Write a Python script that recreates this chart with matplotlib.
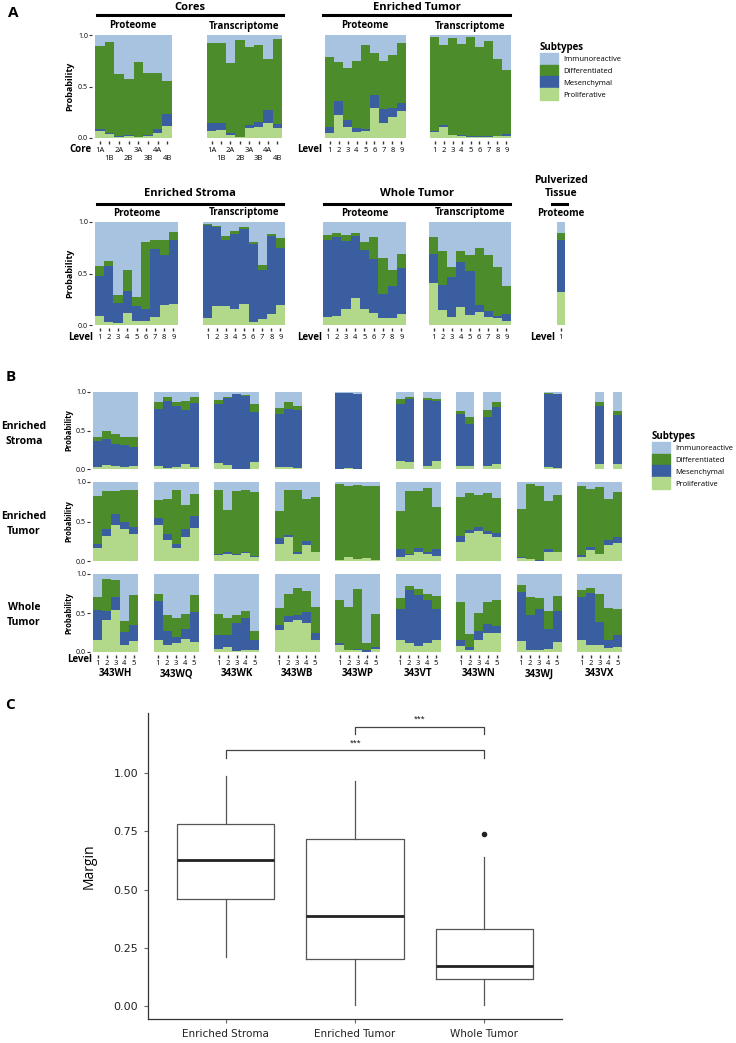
import numpy as np
import matplotlib
matplotlib.use('Agg')
import matplotlib.pyplot as plt
from matplotlib.patches import Patch
from matplotlib.lines import Line2D

plt.rcParams['font.family'] = ['Open Sans', 'DejaVu Sans']

# Colores de los subtipos (orden de apilado: abajo -> arriba)
subtypes = ['Proliferative', 'Mesenchymal', 'Differentiated', 'Immunoreactive']
colors = ['#B2D98A', '#3B5EA1', '#4C8C2B', '#A7C3DF']

# ---------------- Panel A ----------------
core_labels = ['1A', '\n1B', '2A', '\n2B', '3A', '\n3B', '4A', '\n4B']
level_labels = ['1', '2', '3', '4', '5', '6', '7', '8', '9']

cores_prot = dict(prolif=[.07, .04, .01, .02, .01, .02, .05, .12],
                  mes=[.02, .01, .01, .01, .00, .01, .04, .11],
                  diff=[.80, .88, .60, .54, .73, .60, .54, .32],
                  immuno=[.11, .07, .38, .43, .26, .37, .37, .45])
cores_trans = dict(prolif=[.07, .08, .03, .01, .10, .11, .15, .10],
                   mes=[.08, .07, .02, .00, .03, .05, .12, .04],
                   diff=[.77, .77, .68, .94, .75, .74, .50, .82],
                   immuno=[.08, .08, .27, .05, .12, .10, .23, .04])
et_prot = dict(prolif=[.05, .22, .11, .06, .07, .29, .15, .20, .26],
               mes=[.06, .14, .06, .04, .02, .13, .13, .09, .08],
               diff=[.68, .38, .51, .65, .81, .41, .47, .52, .58],
               immuno=[.21, .26, .32, .25, .10, .17, .25, .19, .08])
et_trans = dict(prolif=[.06, .11, .03, .02, .01, .01, .01, .02, .02],
                mes=[.01, .02, .00, .01, .01, .01, .01, .00, .02],
                diff=[.91, .77, .94, .88, .96, .86, .92, .75, .62],
                immuno=[.02, .10, .03, .09, .02, .12, .06, .23, .34])
es_prot = dict(prolif=[.09, .03, .02, .12, .04, .04, .08, .19, .20],
               mes=[.39, .54, .19, .21, .14, .12, .66, .49, .63],
               diff=[.09, .05, .08, .20, .09, .65, .09, .15, .07],
               immuno=[.43, .38, .71, .47, .73, .19, .17, .17, .10])
es_trans = dict(prolif=[.07, .18, .18, .16, .20, .03, .06, .11, .19],
                mes=[.90, .77, .65, .72, .73, .76, .47, .75, .56],
                diff=[.01, .01, .03, .03, .02, .02, .05, .02, .09],
                immuno=[.02, .04, .14, .09, .05, .19, .42, .12, .16])
wt_prot = dict(prolif=[.08, .09, .16, .26, .16, .12, .07, .07, .11],
               mes=[.75, .76, .66, .60, .57, .52, .23, .31, .44],
               diff=[.04, .04, .05, .03, .08, .21, .35, .15, .14],
               immuno=[.13, .11, .13, .11, .19, .15, .35, .47, .31])
wt_trans = dict(prolif=[.41, .15, .08, .17, .10, .13, .08, .07, .04],
                mes=[.28, .24, .39, .44, .42, .06, .06, .02, .07],
                diff=[.16, .33, .09, .11, .16, .56, .54, .47, .27],
                immuno=[.15, .28, .44, .28, .32, .25, .32, .44, .62])
pulv_prot = dict(prolif=[.32], mes=[.51], diff=[.06], immuno=[.11])

# ---------------- Panel B ----------------
patients = ['343WH', '343WQ', '343WK', '343WB', '343WP', '343VT', '343WN', '343WJ', '343VX']
N = None
stroma_prolif = [[.03, .05, .04, .03, .04], [.04, .01, .02, .06, .03], [.08, .05, .00, .00, .09],
                 [.02, .03, .01, N, N], [.00, .01, .00, N, N], [.10, .09, N, .04, .11],
                 [.04, .04, N, .04, .06], [N, N, N, .02, .01], [N, N, .07, N, .07]]
stroma_mes = [[.33, .34, .29, .28, .24], [.74, .87, .80, .70, .83], [.76, .87, .97, .95, .65],
              [.70, .75, .75, N, N], [.99, .98, .98, N, N], [.75, .82, N, .85, .77],
              [.67, .54, N, .64, .74], [N, N, N, .95, .97], [N, N, .75, N, .63]]
stroma_diff = [[.06, .11, .13, .11, .13], [.09, .06, .05, .12, .08], [.05, .02, .00, .01, .10],
               [.07, .09, .06, N, N], [.00, .00, .00, N, N], [.06, .02, N, .03, .03],
               [.04, .10, N, .09, .07], [N, N, N, .02, .00], [N, N, .05, N, .05]]
stroma_immuno = [[.58, .50, .54, .58, .59], [.13, .06, .13, .12, .06], [.11, .06, .03, .04, .16],
                 [.21, .13, .18, N, N], [.01, .01, .02, N, N], [.09, .07, N, .08, .09],
                 [.25, .32, N, .23, .13], [N, N, N, .01, .02], [N, N, .13, N, .25]]

tumor_prolif = [[.17, .32, .46, .40, .34], [.46, .26, .17, .30, .42], [.07, .09, .07, .10, .05],
                [.22, .31, .09, .20, .11], [.01, .05, .02, .04, .01], [.05, .07, .12, .09, .06],
                [.24, .35, .38, .34, .30], [.04, .02, .00, .12, .11], [.05, .14, .09, .20, .23]]
tumor_mes = [[.05, .09, .13, .09, .09], [.09, .08, .04, .10, .15], [.02, .03, .02, .02, .01],
             [.07, .02, .02, .05, .01], [.00, .00, .00, .00, .00], [.10, .02, .04, .03, .09],
             [.08, .04, .05, .04, .05], [.01, .00, .01, .03, .01], [.02, .04, .00, .06, .07]]
tumor_diff = [[.60, .47, .30, .41, .47], [.22, .44, .69, .31, .28], [.81, .53, .80, .78, .81],
              [.34, .57, .79, .54, .69], [.96, .90, .94, .91, .94], [.48, .79, .73, .80, .53],
              [.49, .47, .40, .48, .45], [.61, .95, .94, .61, .72], [.88, .73, .85, .52, .57]]
tumor_immuno = [[.18, .12, .11, .10, .10], [.23, .22, .10, .29, .15], [.10, .35, .11, .10, .13],
                [.37, .10, .10, .21, .19], [.03, .05, .04, .05, .05], [.37, .12, .11, .08, .32],
                [.19, .14, .17, .14, .20], [.34, .03, .05, .24, .16], [.05, .09, .06, .22, .13]]

whole_prolif = [[.15, .41, .54, .09, .14], [.16, .09, .12, .17, .13], [.04, .06, .01, .03, .03],
                [.28, .38, .41, .37, .16], [.09, .02, .03, .00, .04], [.16, .11, .08, .12, .16],
                [.08, .03, .16, .25, .25], [.14, .03, .03, .04, .13], [.15, .09, .09, .05, .07]]
whole_mes = [[.39, .12, .16, .17, .20], [.49, .18, .07, .12, .38], [.18, .16, .36, .41, .12],
             [.07, .08, .06, .14, .09], [.02, .01, .01, .03, .02], [.39, .68, .65, .55, .39],
             [.07, .03, .11, .11, .08], [.63, .44, .52, .25, .40], [.56, .67, .29, .11, .15]]
whole_diff = [[.17, .41, .22, .14, .39], [.09, .20, .24, .20, .22], [.27, .22, .11, .09, .12],
              [.22, .29, .35, .27, .33], [.56, .55, .77, .08, .43], [.14, .06, .08, .07, .17],
              [.49, .17, .23, .28, .34], [.09, .23, .14, .24, .19], [.09, .06, .37, .40, .33]]
whole_immuno = [[.29, .06, .08, .60, .27], [.26, .53, .57, .51, .27], [.51, .56, .52, .47, .73],
                [.43, .25, .18, .22, .42], [.33, .42, .19, .89, .51], [.31, .15, .19, .26, .28],
                [.36, .77, .50, .36, .33], [.14, .30, .31, .47, .28], [.20, .18, .25, .44, .45]]

# ---------------- Panel C ----------------
groups_c = ['Enriched Stroma', 'Enriched Tumor', 'Whole Tumor']
c_whislo = [0.21, 0.003, 0.003]
c_q1 = [0.46, 0.203, 0.114]
c_med = [0.626, 0.386, 0.17]
c_q3 = [0.781, 0.717, 0.329]
c_whishi = [0.986, 0.964, 0.639]
c_fliers = [[], [], [0.737]]

W, H = 736, 1043
fig = plt.figure(figsize=(W / 100, H / 100), dpi=100)


def fx(x):
    return x / W


def fy(y):
    return 1 - y / H


def px_axes(x0, y0, x1, y1):
    return fig.add_axes([fx(x0), fy(y1), (x1 - x0) / W, (y1 - y0) / H])


def ftext(x, y, s, **kw):
    kw.setdefault('ha', 'center')
    kw.setdefault('va', 'center')
    fig.text(fx(x), fy(y), s, **kw)


def bracket(x0, x1, y):
    fig.add_artist(Line2D([fx(x0), fx(x1)], [fy(y), fy(y)], transform=fig.transFigure,
                          color='black', lw=2.2))


def clean(ax):
    for s in ax.spines.values():
        s.set_visible(False)
    ax.spines['bottom'].set_position(('outward', 2))
    ax.spines['left'].set_position(('outward', 2))


def panel_a(x0, x1, y0, y1, d, labels, first):
    ax = px_axes(x0, y0, x1, y1)
    xs = np.arange(len(labels))
    bottom = np.zeros(len(xs))
    for key, col in zip(['prolif', 'mes', 'diff', 'immuno'], colors):
        v = np.array(d[key], float)
        ax.bar(xs, v, bottom=bottom, width=1.0, color=col, linewidth=0)
        bottom += v
    ax.set_xlim(-0.5, len(xs) - 0.5)
    ax.set_ylim(0, 1)
    clean(ax)
    ax.set_xticks(xs)
    ax.set_xticklabels(labels, fontsize=5.5, linespacing=1.35)
    ax.tick_params(axis='x', length=2.5, width=1, pad=1.8, color='#333')
    if first:
        ax.set_yticks([0, 0.5, 1])
        ax.set_yticklabels(['0.0', '0.5', '1.0'], fontsize=5)
        ax.tick_params(axis='y', length=2, width=0.8, pad=1, color='#333')
        ax.set_ylabel('Probability', fontsize=6.5, fontweight='bold', labelpad=3)
    else:
        ax.set_yticks([])
    return ax


# Panel A, fila superior
panel_a(95, 172, 35, 138, cores_prot, core_labels, True)
panel_a(207, 282, 35, 138, cores_trans, core_labels, False)
panel_a(325, 406, 35, 138, et_prot, level_labels, False)
panel_a(430, 511, 35, 138, et_trans, level_labels, False)

ftext(190, 7, 'Cores', fontsize=8, fontweight='bold')
bracket(97, 283, 15)
ftext(417, 7, 'Enriched Tumor', fontsize=8, fontweight='bold')
bracket(323, 510, 15)
for cx, s in [(133, 'Proteome'), (244, 'Transcriptome'), (365, 'Proteome'), (470, 'Transcriptome')]:
    ftext(cx, 26, s, fontsize=7, fontweight='bold')
ftext(91, 150, 'Core', fontsize=7, fontweight='bold', ha='right')
ftext(322, 150, 'Level', fontsize=7, fontweight='bold', ha='right')

# Panel A, fila inferior
panel_a(95, 178, 222, 325, es_prot, level_labels, True)
panel_a(203, 285, 222, 325, es_trans, level_labels, False)
panel_a(323, 406, 222, 325, wt_prot, level_labels, False)
panel_a(429, 511, 222, 325, wt_trans, level_labels, False)
panel_a(557, 565, 222, 325, pulv_prot, ['1'], False)

ftext(190, 194, 'Enriched Stroma', fontsize=8, fontweight='bold')
bracket(97, 283, 204)
ftext(417, 194, 'Whole Tumor', fontsize=8, fontweight='bold')
bracket(324, 510, 204)
ftext(561, 187, 'Pulverized\nTissue', fontsize=7.5, fontweight='bold', linespacing=1.3)
bracket(552, 567, 204)
for cx, s in [(137, 'Proteome'), (244, 'Transcriptome'), (365, 'Proteome'), (470, 'Transcriptome'),
              (561, 'Proteome')]:
    ftext(cx, 213, s, fontsize=7, fontweight='bold')
for x in [93, 322, 555]:
    ftext(x, 337, 'Level', fontsize=7, fontweight='bold', ha='right')

handles = [Patch(color=c) for c in colors[::-1]]
leg_kw = dict(loc='upper left', title='Subtypes', frameon=False, fontsize=5.5,
              title_fontproperties={'weight': 'bold', 'size': 7}, handlelength=2.4,
              handleheight=2.0, labelspacing=0.0, handletextpad=0.6, alignment='left')
fig.legend(handles, subtypes[::-1], bbox_to_anchor=(fx(533), fy(35)), **leg_kw)

# ---------------- Panel B ----------------
STEP = 60.5 / 9.0
b_rows = [(392, 469, [stroma_prolif, stroma_mes, stroma_diff, stroma_immuno], 'Enriched\nStroma', 434),
          (482, 561, [tumor_prolif, tumor_mes, tumor_diff, tumor_immuno], 'Enriched\nTumor', 524),
          (574, 652, [whole_prolif, whole_mes, whole_diff, whole_immuno], 'Whole\nTumor', 615)]
for r, (y0, y1, parts, rlabel, ly) in enumerate(b_rows):
    ax = px_axes(93, y0, 93 + 8 * 60.5 + 45, y1)
    for i in range(len(patients)):
        idx = [j for j in range(5) if parts[0][i][j] is not None]
        xs = np.array([i * STEP + j + 0.5 for j in idx])
        bottom = np.zeros(len(idx))
        for vals, col in zip(parts, colors):
            v = np.array([vals[i][j] for j in idx], float)
            ax.bar(xs, v, bottom=bottom, width=1.0, color=col, linewidth=0)
            bottom += v
    ax.set_xlim(0, 8 * STEP + 5)
    ax.set_ylim(0, 1)
    clean(ax)
    ax.set_yticks([0, 0.5, 1])
    ax.set_yticklabels(['0.0', '0.5', '1.0'], fontsize=5)
    ax.tick_params(axis='y', length=2, width=0.8, pad=1, color='#333')
    ax.set_ylabel('Probability', fontsize=5.5, fontweight='bold', labelpad=2)
    ftext(24, ly, rlabel, fontsize=7.5, fontweight='bold', linespacing=1.4)
    if r == 2:
        ticks = [i * STEP + j + 0.5 for i in range(len(patients)) for j in range(5)]
        ax.set_xticks(ticks)
        ax.set_xticklabels([str(j + 1) for i in range(len(patients)) for j in range(5)], fontsize=5.5)
        ax.tick_params(axis='x', length=2.5, width=1, pad=1, color='#333')
        for i, p in enumerate(patients):
            ftext(93 + i * 60.5 + 22.5, 674, p, fontsize=7, fontweight='bold')
        ftext(92, 660, 'Level', fontsize=7, fontweight='bold', ha='right')
    else:
        ax.set_xticks([])

fig.legend(handles, subtypes[::-1], bbox_to_anchor=(fx(645), fy(424)), **leg_kw)

# ---------------- Panel C ----------------
narrow = ['Liberation Sans Narrow', 'DejaVu Sans']
axc = px_axes(148, 713, 562, 1019)
stats = [dict(whislo=c_whislo[i], q1=c_q1[i], med=c_med[i], q3=c_q3[i], whishi=c_whishi[i],
              fliers=c_fliers[i]) for i in range(3)]
axc.bxp(stats, positions=[1, 2, 3], widths=0.75, showcaps=False,
        boxprops=dict(color='#555555', lw=0.9),
        whiskerprops=dict(color='#555555', lw=0.9),
        medianprops=dict(color='#222222', lw=2),
        flierprops=dict(marker='o', markerfacecolor='#222222', markeredgecolor='#222222', markersize=3))
axc.set_xlim(0.4, 3.6)
axc.set_ylim(-0.056, 1.258)
for s in ['top', 'right']:
    axc.spines[s].set_visible(False)
for s in ['left', 'bottom']:
    axc.spines[s].set_color('#333333')
    axc.spines[s].set_linewidth(0.9)
axc.set_yticks([0, 0.25, 0.5, 0.75, 1.0])
axc.set_yticklabels(['0.00', '0.25', '0.50', '0.75', '1.00'], fontsize=8, family=narrow, color='#222')
axc.set_xticks([1, 2, 3])
axc.set_xticklabels(groups_c, fontsize=7.5, family=narrow, color='#222')
axc.tick_params(length=3, width=0.8, color='#666666', pad=4)
axc.tick_params(axis='x', pad=4)
axc.set_ylabel('Margin', fontsize=10, labelpad=12)

# Corchetes de significancia
for (a, b, yb) in [(2, 3, 1.2), (1, 3, 1.097)]:
    axc.plot([a, a, b, b], [yb - 0.032, yb, yb, yb - 0.032], color='#444444', lw=0.9)
    axc.text((a + b) / 2, yb + 0.03, '***', ha='center', va='center', fontsize=5)

# Etiquetas de panel
ftext(13, 13, 'A', fontsize=11, fontweight='bold')
ftext(11, 377, 'B', fontsize=11, fontweight='bold')
ftext(10, 705, 'C', fontsize=11, fontweight='bold')

fig.savefig('out.png', dpi=100)
